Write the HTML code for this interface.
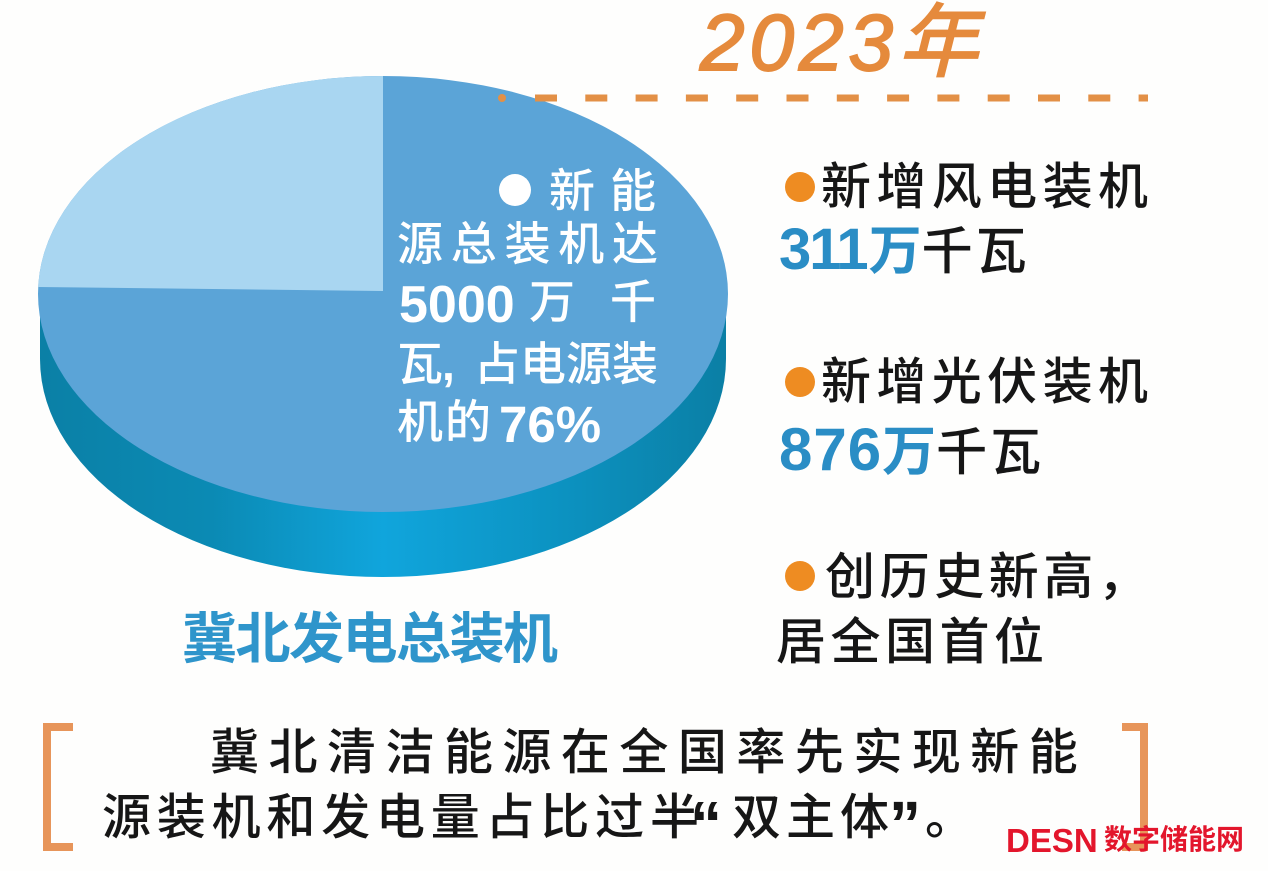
<!DOCTYPE html>
<html><head><meta charset="utf-8">
<style>
html,body{margin:0;padding:0;}
body{width:1268px;height:871px;overflow:hidden;background:#fefefd;position:relative;font-family:"Liberation Sans","Noto Sans CJK SC",sans-serif;}
.a{position:absolute;white-space:nowrap;}
.fx{position:absolute;display:flex;justify-content:space-between;white-space:nowrap;}
.fx span{display:block;}
.w{color:#fff;font-weight:500;}
.k{color:#161616;font-weight:500;}
.b{color:#2a8dc5;font-weight:bold;}
.dot{position:absolute;border-radius:50%;}
</style></head><body>

<svg class="a" style="left:0;top:0" width="1268" height="871" viewBox="0 0 1268 871">
  <defs>
    <linearGradient id="side" x1="0" y1="0" x2="1" y2="0">
      <stop offset="0" stop-color="#0b80a6"/>
      <stop offset="0.25" stop-color="#0b8ab4"/>
      <stop offset="0.5" stop-color="#10a5dc"/>
      <stop offset="0.75" stop-color="#0c93c2"/>
      <stop offset="1" stop-color="#0b7fa5"/>
    </linearGradient>
  </defs>
  <ellipse cx="383" cy="359" rx="343" ry="218" fill="url(#side)"/>
  <rect x="40" y="294" width="686" height="65" fill="url(#side)"/>
  <ellipse cx="383" cy="294" rx="345" ry="218" fill="#5ba4d7"/>
  <path d="M383,291 L383,76 A345,218 0 0 0 38.2,287 Z" fill="#a9d6f1"/>
  <circle cx="502" cy="98" r="4" fill="#e39046"/>
  <line x1="535" y1="98" x2="1148" y2="98" stroke="#e39046" stroke-width="7" stroke-dasharray="22 28.3"/>
  <path d="M73,727 L47,727 L47,847 L73,847" fill="none" stroke="#e7955a" stroke-width="8"/>
  <path d="M1122,727 L1144,727 L1144,847 L1122,847" fill="none" stroke="#e7955a" stroke-width="8"/>
</svg>

<!-- 2023年 -->
<div class="a" style="left:700px;top:3px;font-size:80px;line-height:80px;color:#e58a3c;font-style:italic;font-weight:normal;-webkit-text-stroke:2px #e58a3c;letter-spacing:5px;">2023<span style="font-size:80px;letter-spacing:0;">年</span></div>

<!-- pie label -->
<div class="dot" style="left:499px;top:174px;width:32px;height:32px;background:#fff;"></div>
<div class="a w" style="left:549px;top:168px;font-size:46px;line-height:46px;">新</div>
<div class="a w" style="left:610px;top:168px;font-size:46px;line-height:46px;">能</div>

<div class="fx w" style="left:397px;top:221px;width:261px;font-size:46px;line-height:46px;"><span>源</span><span>总</span><span>装</span><span>机</span><span>达</span></div>

<div class="a w" style="left:399px;top:279px;font-size:52px;line-height:52px;font-weight:bold;">5000</div>
<div class="a w" style="left:529px;top:279px;font-size:46px;line-height:46px;">万</div>
<div class="a w" style="left:610px;top:279px;font-size:46px;line-height:46px;">千</div>

<div class="a w" style="left:397px;top:341px;font-size:46px;line-height:46px;">瓦</div>
<div class="a w" style="left:442px;top:341px;font-size:46px;line-height:46px;font-weight:bold;">,</div>
<div class="fx w" style="left:474px;top:341px;width:184px;font-size:46px;line-height:46px;"><span>占</span><span>电</span><span>源</span><span>装</span></div>

<div class="a w" style="left:397px;top:399px;font-size:46px;line-height:46px;">机</div>
<div class="a w" style="left:445px;top:399px;font-size:46px;line-height:46px;">的</div>
<div class="a w" style="left:499px;top:399px;font-size:51px;line-height:51px;font-weight:bold;">76%</div>

<!-- pie caption -->
<div class="a" style="left:182px;top:612px;font-size:55px;line-height:55px;font-weight:bold;color:#2f95cb;letter-spacing:-1.5px;">冀北发电总装机</div>

<!-- right column -->
<div class="dot" style="left:785px;top:172px;width:30px;height:30px;background:#ee8c22;"></div>
<div class="fx k" style="left:821px;top:162px;width:327px;font-size:50px;line-height:50px;"><span>新</span><span>增</span><span>风</span><span>电</span><span>装</span><span>机</span></div>

<div class="a" style="left:779px;top:221px;font-size:58px;line-height:58px;"><span class="b" style="letter-spacing:-2px;">311</span><span class="b" style="font-size:53px;margin-left:2px;">万</span><span class="k" style="font-size:51px;letter-spacing:3px;">千瓦</span></div>

<div class="dot" style="left:785px;top:367px;width:30px;height:30px;background:#ee8c22;"></div>
<div class="fx k" style="left:821px;top:357px;width:327px;font-size:50px;line-height:50px;"><span>新</span><span>增</span><span>光</span><span>伏</span><span>装</span><span>机</span></div>

<div class="a" style="left:779px;top:420px;font-size:60px;line-height:60px;"><span class="b" style="letter-spacing:1px;">876</span><span class="b" style="font-size:54px;">万</span><span class="k" style="font-size:51px;letter-spacing:3px;">千瓦</span></div>

<div class="dot" style="left:785px;top:561px;width:30px;height:30px;background:#ee8c22;"></div>
<div class="fx k" style="left:825px;top:552px;width:323px;font-size:50px;line-height:50px;"><span>创</span><span>历</span><span>史</span><span>新</span><span>高</span><span>，</span></div>

<div class="fx k" style="left:776px;top:617px;width:268px;font-size:50px;line-height:50px;"><span>居</span><span>全</span><span>国</span><span>首</span><span>位</span></div>

<!-- body text -->
<div class="fx k" style="left:210px;top:729px;width:868px;font-size:49px;line-height:49px;"><span>冀</span><span>北</span><span>清</span><span>洁</span><span>能</span><span>源</span><span>在</span><span>全</span><span>国</span><span>率</span><span>先</span><span>实</span><span>现</span><span>新</span><span>能</span></div>

<div class="fx k" style="left:102px;top:794px;width:597px;font-size:49px;line-height:49px;"><span>源</span><span>装</span><span>机</span><span>和</span><span>发</span><span>电</span><span>量</span><span>占</span><span>比</span><span>过</span><span>半</span></div>
<div class="a k" style="left:690px;top:792px;font-size:64px;line-height:64px;font-weight:bold;">“</div>
<div class="a k" style="left:732px;top:794px;font-size:49px;line-height:49px;">双</div>
<div class="a k" style="left:786px;top:794px;font-size:49px;line-height:49px;">主</div>
<div class="a k" style="left:840px;top:794px;font-size:49px;line-height:49px;">体</div>
<div class="a k" style="left:889px;top:792px;font-size:64px;line-height:64px;font-weight:bold;">”</div>
<div class="a k" style="left:925px;top:794px;font-size:49px;line-height:49px;">。</div>

<!-- watermark -->
<div class="a" style="left:1006px;top:824px;font-size:33px;line-height:33px;font-weight:bold;color:#e3162c;">DESN</div>
<div class="a" style="left:1104px;top:826px;font-size:28px;line-height:28px;font-weight:bold;color:#e3162c;">数字储能网</div>

</body></html>
